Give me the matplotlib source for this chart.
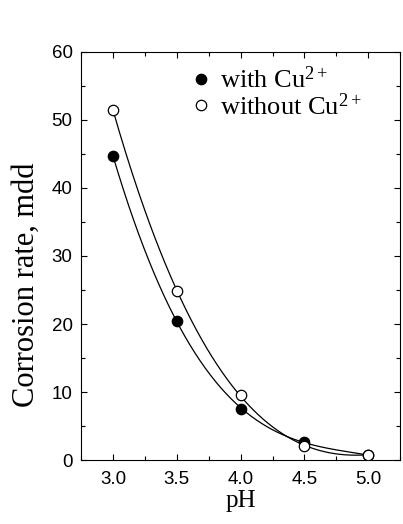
import numpy as np
import matplotlib.pyplot as plt
from matplotlib.ticker import MultipleLocator, FormatStrFormatter

plt.rcParams["mathtext.fontset"] = "custom"
plt.rcParams["mathtext.rm"] = "Liberation Serif"
plt.rcParams["mathtext.it"] = "Liberation Serif:italic"

ph = [3.0, 3.5, 4.0, 4.5, 5.0]
with_cu = [44.7, 20.5, 7.5, 2.7, 0.7]
without_cu = [51.5, 24.9, 9.5, 2.1, 0.8]

fig = plt.figure(figsize=(4.03, 5.24), dpi=100)
ax = fig.add_axes([0.201, 0.122, 0.792, 0.779])

xs = np.linspace(3.0, 5.0, 200)
for ys in (with_cu, without_cu):
    c = np.polyfit(ph, ys, 3)
    ax.plot(xs, np.polyval(c, xs), color="black", lw=0.9, zorder=1)

ax.plot(ph, with_cu, "o", color="black", mfc="black", ms=7.5, mew=0.9,
        zorder=3, label=r"with Cu$^{\mathrm{2+}}$")
ax.plot(ph, without_cu, "o", color="black", mfc="white", ms=7.5, mew=0.9,
        zorder=3, label=r"without Cu$^{\mathrm{2+}}$")

ax.set_xlim(2.75, 5.25)
ax.set_ylim(0, 60)
ax.xaxis.set_major_locator(MultipleLocator(0.5))
ax.xaxis.set_minor_locator(MultipleLocator(0.25))
ax.yaxis.set_major_locator(MultipleLocator(10))
ax.yaxis.set_minor_locator(MultipleLocator(5))
ax.xaxis.set_major_formatter(FormatStrFormatter("%.1f"))
ax.tick_params(which="both", direction="in", top=True, right=True)
ax.tick_params(which="major", length=4.5, width=0.8, labelsize=13.5, pad=6)
ax.tick_params(axis="x", which="major", pad=8)
ax.tick_params(which="minor", length=3, width=0.8)
for lab in ax.get_xticklabels() + ax.get_yticklabels():
    lab.set_fontfamily("Liberation Sans")

ax.set_xlabel("pH", family="Liberation Serif", fontsize=18, labelpad=1)
ax.set_ylabel("Corrosion rate, mdd", family="Liberation Serif", fontsize=22)
ax.yaxis.set_label_coords(-0.125, 0.43)

ax.legend(loc="upper left", frameon=False, handletextpad=0.05,
          prop={"family": "Liberation Serif", "size": 19},
          bbox_to_anchor=(0.29, 0.99), labelspacing=0.0, handlelength=1.3,
          borderaxespad=0)

fig.savefig("out.png", dpi=100)
